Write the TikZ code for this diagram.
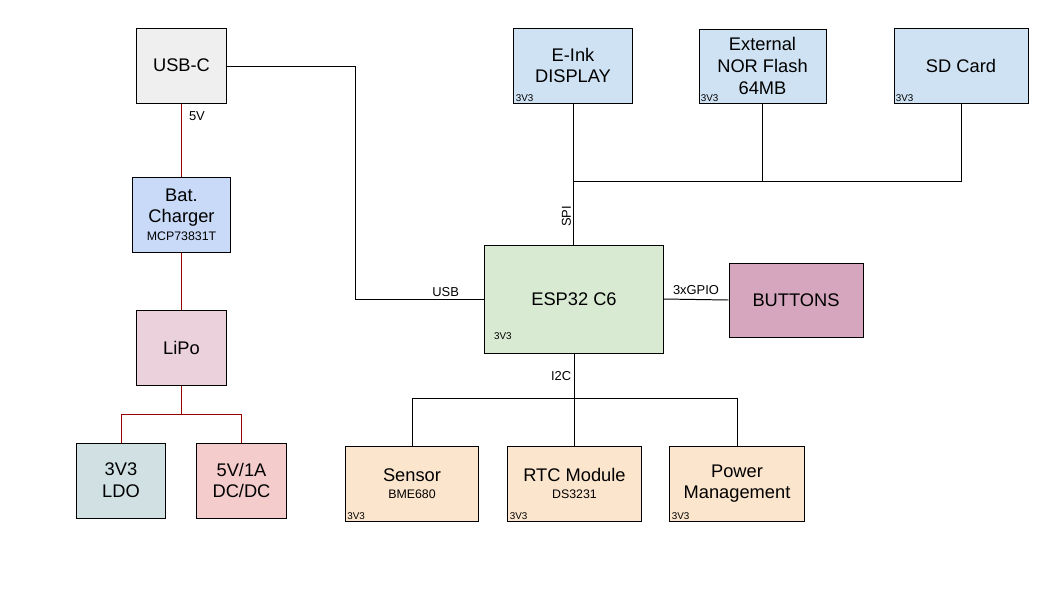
\documentclass[tikz,border=0pt]{standalone}
\usepackage{fontspec}
\setmainfont{Liberation Sans}
\definecolor{usbgray}{HTML}{EFEFEF}
\definecolor{chgblue}{HTML}{C9DAF8}
\definecolor{lipopink}{HTML}{EAD1DC}
\definecolor{ldogray}{HTML}{D0E0E3}
\definecolor{dcdcred}{HTML}{F4CCCC}
\definecolor{espgreen}{HTML}{D9EAD3}
\definecolor{btnmauve}{HTML}{D5A6BD}
\definecolor{spiblue}{HTML}{CFE2F3}
\definecolor{i2corange}{HTML}{FCE5CD}
\definecolor{pwrred}{HTML}{990000}
\newcommand{\subtxt}[1]{{\fontsize{8.8}{10}\selectfont #1}}
\tikzset{
  blk/.style={draw, line width=0.7pt, align=center, inner sep=1pt,
    font=\fontsize{13}{15.5}\selectfont},
  wire/.style={line width=0.7pt},
  pwr/.style={line width=0.7pt, draw=pwrred},
  lbl/.style={font=\fontsize{9.2}{10}\selectfont, inner sep=1pt},
  vcc/.style={label={[anchor=south west, inner sep=1.5pt,
    font=\fontsize{7}{8}\selectfont]south west:3V3}},
}
\begin{document}
\begin{tikzpicture}[x=0.025cm, y=-0.025cm]
  \useasboundingbox (0,0) rectangle (1045,594);

  % power path
  \node[blk, fill=usbgray, minimum width=2.225cm, minimum height=1.875cm] (usbc) at (181.5,65.5) {USB-C};
  \node[blk, fill=chgblue, minimum width=2.425cm, minimum height=1.875cm] (chg) at (181.5,214.5) {Bat.\\Charger\\[-3pt]\subtxt{MCP73831T}};
  \node[blk, fill=lipopink, minimum width=2.225cm, minimum height=1.875cm] (lipo) at (181.5,347.5) {LiPo};
  \node[blk, fill=ldogray, minimum width=2.2cm, minimum height=1.875cm] (ldo) at (121,480.5) {3V3\\LDO};
  \node[blk, fill=dcdcred, minimum width=2.225cm, minimum height=1.875cm] (dcdc) at (241.5,480.5) {5V/1A\\DC/DC};

  % controller
  \node[blk, fill=espgreen, minimum width=4.45cm, minimum height=2.7cm] (esp) at (574,299) {ESP32 C6};
  \node[lbl, anchor=south west, font=\fontsize{7}{8}\selectfont] at ([xshift=0.2cm, yshift=0.3cm]esp.south west) {3V3};
  \node[blk, fill=btnmauve, minimum width=3.35cm, minimum height=1.85cm] (btn) at (796,300) {BUTTONS};

  % SPI devices
  \node[blk, vcc, fill=spiblue, minimum width=2.95cm, minimum height=1.875cm] (eink) at (573,65.5) {E-Ink\\DISPLAY};
  \node[blk, vcc, fill=spiblue, minimum width=3.175cm, minimum height=1.85cm] (flash) at (762.5,66) {External\\NOR Flash\\64MB};
  \node[blk, vcc, fill=spiblue, minimum width=3.35cm, minimum height=1.875cm] (sd) at (961,65.5) {SD Card};

  % I2C devices
  \node[blk, vcc, fill=i2corange, minimum width=3.325cm, minimum height=1.875cm] (sens) at (412,483.5) {Sensor\\[-3pt]\subtxt{BME680}};
  \node[blk, vcc, fill=i2corange, minimum width=3.325cm, minimum height=1.875cm] (rtc) at (574.5,483.5) {RTC Module\\[-3pt]\subtxt{DS3231}};
  \node[blk, vcc, fill=i2corange, minimum width=3.35cm, minimum height=1.875cm] (pmu) at (737,483.5) {Power\\Management};

  \coordinate (pbus) at (181.5,414);
  \coordinate (spibus) at (573,181);
  \coordinate (i2cbus) at (574.5,398);
  \coordinate (usbturn) at (355,66);

  \draw[pwr] (usbc) -- node[lbl, right=4pt, pos=0.17, text=black] {5V} (chg);
  \draw[pwr] (chg) -- (lipo);
  \draw[pwr] (lipo) -- (pbus);
  \draw[pwr] (pbus) -| (ldo.north);
  \draw[pwr] (pbus) -| (dcdc.north);

  \draw[wire] (usbc.east |- usbturn) -- (usbturn) |- node[lbl, above, pos=0.85] {USB} (esp.west);
  \draw[wire] (esp.east) -- node[lbl, above=2pt] {3xGPIO} (btn.west);

  \draw[wire] (eink.south) -- node[lbl, rotate=90, anchor=south, pos=0.8] {SPI} (eink.south |- esp.north);
  \draw[wire] (spibus) -| (sd.south);
  \draw[wire] (flash.south) -- (flash.south |- spibus);

  \draw[wire] (rtc.south |- esp.south) -- node[lbl, left=1pt, pos=0.5] {I2C} (i2cbus);
  \draw[wire] (i2cbus) -| (sens.north);
  \draw[wire] (i2cbus) -| (pmu.north);
  \draw[wire] (i2cbus) -- (rtc.north);
\end{tikzpicture}
\end{document}
